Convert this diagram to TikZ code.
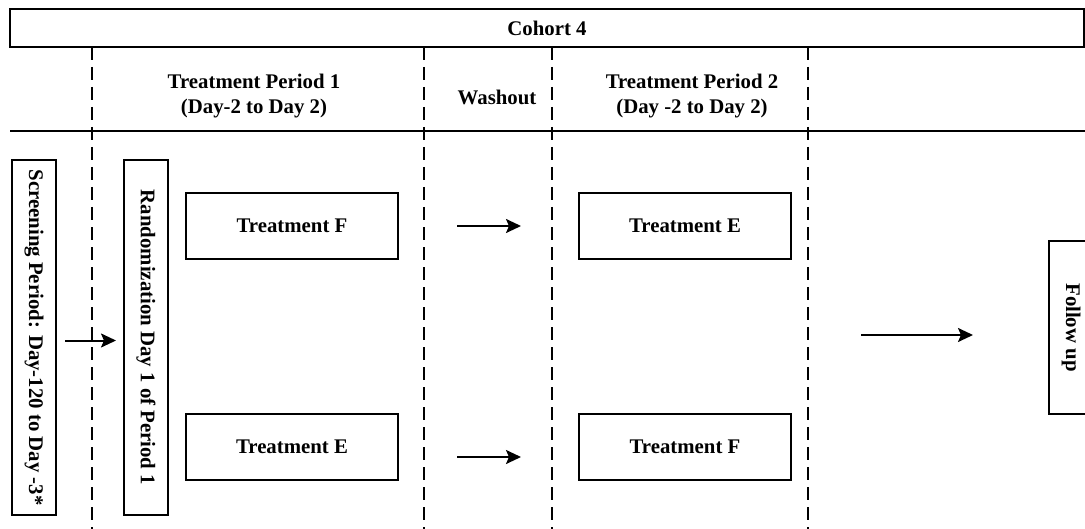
\documentclass[tikz,border=0pt]{standalone}
\usepackage{fontspec}
\setmainfont{Liberation Serif}
\usepackage{tikz}
\usetikzlibrary{arrows.meta}
\tikzset{
    tnode/.style = {align=center, inner sep=0pt, text centered, font=\fontsize{10.4}{12.6}\selectfont\bfseries},
    trt_node/.style = {tnode, rectangle, draw=black, line width=1pt, minimum width=106pt, minimum height=33pt},
    side_node/.style = {tnode, rectangle, draw=black, line width=1pt, rotate=-90, minimum height=22pt},
    head_node/.style = {tnode},
    sep_line/.style = {line width=1pt, dash pattern=on 6.5pt off 3.5pt},
    arr/.style = {->, line width=1pt}
}

\begin{document}
\begin{tikzpicture}[>={Stealth[length=7.5pt, width=7pt, inset=1.5pt]}, x=0.5pt, y=-0.5pt]
            \useasboundingbox (0,0) rectangle (1085,529);
            % cohort header
            \node [tnode, rectangle, draw=black, line width=1pt, minimum width=537pt, minimum height=19pt] (cohort) at (547,28) {Cohort 4};
            \draw [line width=1pt] (10,131) -- (1090,131);
            \foreach \x in {92,424,552,808}
                \draw [sep_line] (\x,47) -- (\x,529);
            \node [head_node] (tp1) at (254,96) {Treatment Period 1\\(Day-2 to Day 2)};
            \node [head_node] (wash) at (497,97) {Washout};
            \node [head_node] (tp2) at (692,96) {Treatment Period 2\\(Day -2 to Day 2)};
            % side boxes
            \node [side_node, minimum width=177.5pt] (scr) at (34,337.5) {Screening Period: Day-120 to Day -3*};
            \node [side_node, minimum width=177.5pt] (rnd) at (146,337.5) {Randomization Day 1 of Period 1};
            \node [side_node, minimum width=86.5pt] (fu) at (1071,327.5) {Follow up};
            % treatments
            \node [trt_node] (trtF1) at (292,226) {Treatment F};
            \node [trt_node] (trtE2) at (685,226) {Treatment E};
            \node [trt_node] (trtE1) at (292,447) {Treatment E};
            \node [trt_node] (trtF2) at (685,447) {Treatment F};
            % arrows
            \draw [arr, shorten <=4pt, shorten >=3.5pt] ([yshift=-1.5pt]scr.north) -- ([yshift=-1.5pt]rnd.south);
            \draw [arr, shorten <=29pt, shorten >=28.5pt] (trtF1) -- (trtE2);
            \draw [arr, shorten <=29pt, shorten >=28.5pt] ([yshift=-5pt]trtE1.east) -- ([yshift=-5pt]trtF2.west);
            \coordinate (mid) at (861,335);
            \draw [arr, shorten >=49pt] (mid) -- (mid -| fu.center);
        \end{tikzpicture}
\end{document}
